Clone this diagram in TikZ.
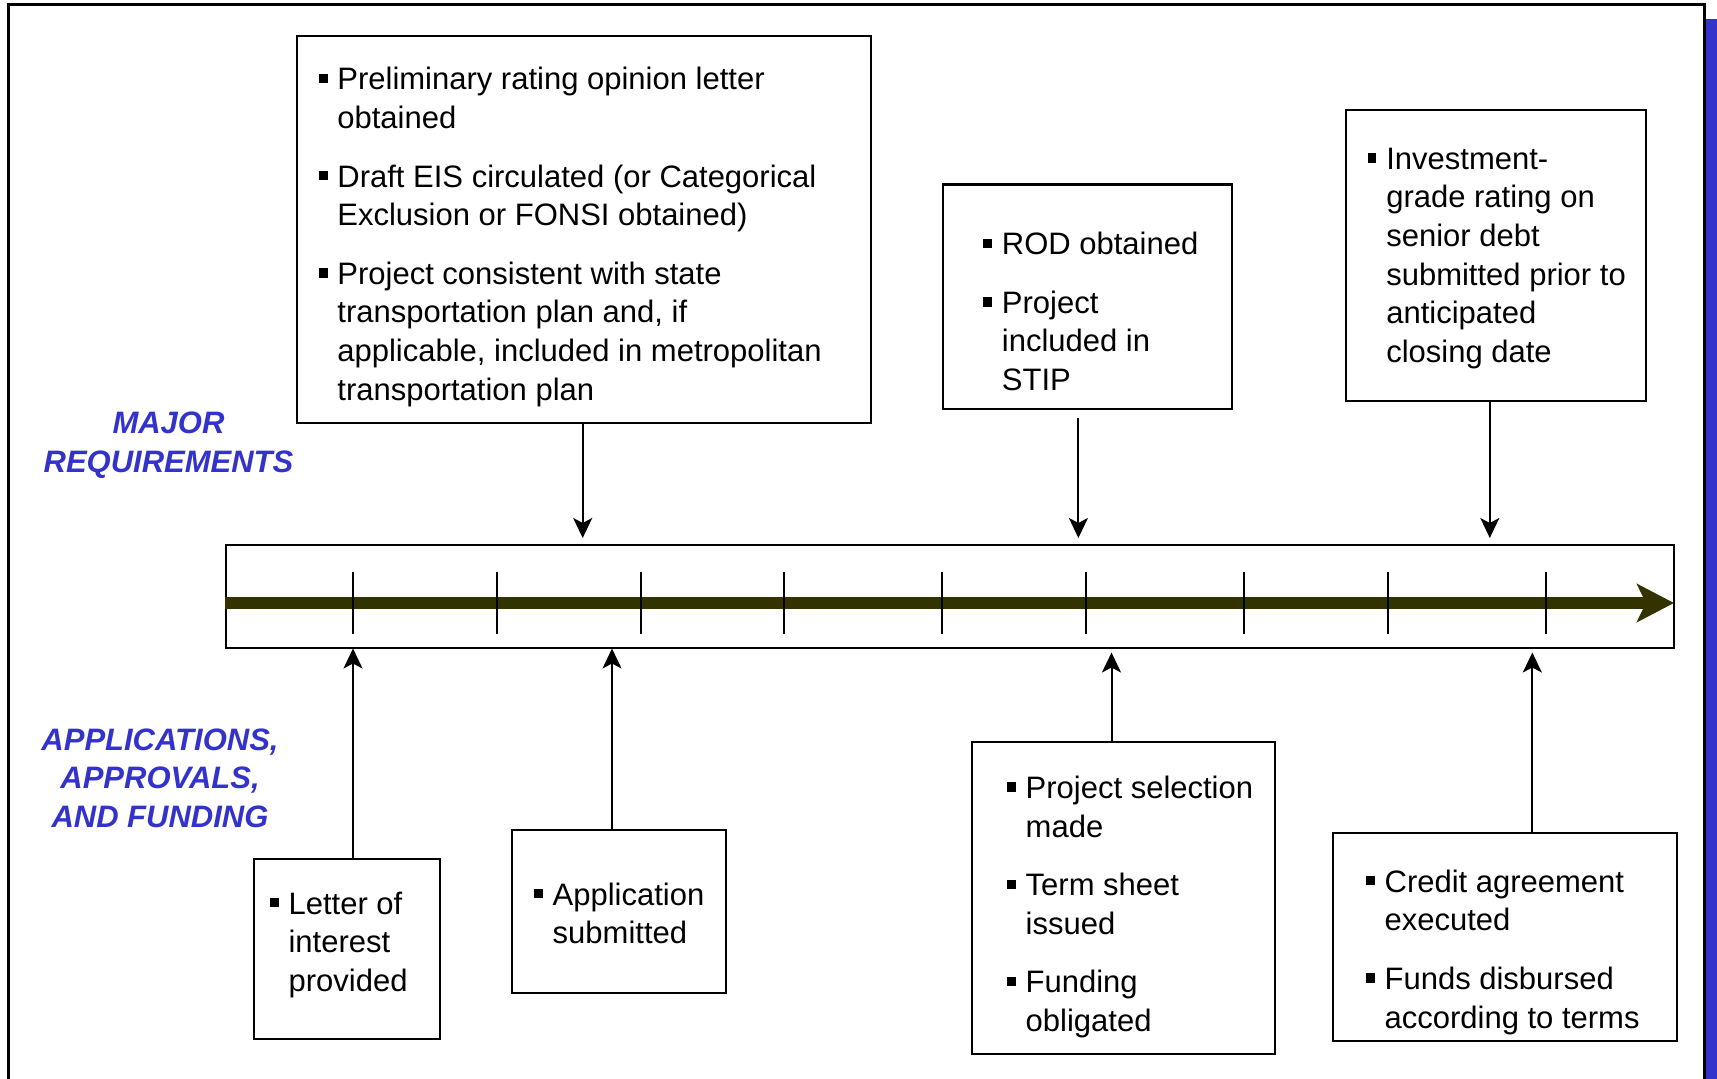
\documentclass[tikz,border=0pt]{standalone}
\usepackage{fontspec}
\setmainfont{Liberation Sans}
\usetikzlibrary{arrows.meta}
\definecolor{lblblue}{RGB}{51,51,204}
\definecolor{tlolive}{RGB}{51,51,0}
\newcommand\mybul{\makebox[9.25pt][l]{\rule[3.4pt]{4.3pt}{4.6pt}}}
\begin{document}
\begin{tikzpicture}[x=0.5pt,y=-0.5pt,
  box/.style={draw, line width=1.1pt, inner sep=0pt, anchor=north west},
  txt/.style={anchor=base west, inner sep=0pt, font=\fontsize{15.5pt}{19.3pt}\selectfont},
  lbl/.style={anchor=base, inner sep=0pt, text=lblblue, font=\fontsize{15.5pt}{19.3pt}\selectfont\bfseries\itshape},
  conn/.style={line width=1pt, -{Stealth[length=10pt,width=9.5pt,inset=2.5pt]}},
  tickmark/.style={line width=1pt},
  tline/.style={line width=5.6pt, draw=tlolive, -{Stealth[length=18.5pt,width=19pt,inset=4.5pt,fill=tlolive]}}]
\useasboundingbox (0,0) rectangle (1717,1079);
\clip (0,0) rectangle (1717,1079);
% frame and side bar
\fill[lblblue] (1706,19) rectangle (1722,1090);
\draw[line width=1.5pt] (8,1095) -- (8,5) -- (1704,5) -- (1704,1095);

% side labels
\node[lbl] (lmaj) at (168.5,434) {\begin{tabular}[t]{@{}c@{}}MAJOR\\REQUIREMENTS\end{tabular}};
\node[lbl] (lapp) at (160,750) {\begin{tabular}[t]{@{}c@{}}APPLICATIONS,\\APPROVALS,\\AND FUNDING\end{tabular}};

% timeline
\node[box, minimum width=724.25pt, minimum height=51.25pt] (T) at (224.5,544) {};
\coordinate (tl0) at (224.5,603);
\coordinate (tl1) at (1674,603);
\draw[tline] (tl0) -- (tl1);
\foreach \xx in {353,496.6,640.6,784.2,942.3,1086.1,1244.3,1388,1546.2}
  \draw[tickmark] (\xx,572) -- (\xx,634);

% upper boxes
\node[box, minimum width=287pt, minimum height=193.5pt] (A) at (296,35) {};
\node[txt] (Atxt) at (318.5,90) {\begin{tabular}[t]{@{}l@{}l@{}}
\mybul & Preliminary rating opinion letter\\
 & obtained\\[10pt]
\mybul & Draft EIS circulated (or Categorical\\
 & Exclusion or FONSI obtained)\\[10pt]
\mybul & Project consistent with state\\
 & transportation plan and, if\\
 & applicable, included in metropolitan\\
 & transportation plan
\end{tabular}};

\node[box, minimum width=144.25pt, minimum height=112.25pt] (B) at (942,183.5) {};
\node[txt] (Btxt) at (983,254.8) {\begin{tabular}[t]{@{}l@{}l@{}}
\mybul & ROD obtained\\[10pt]
\mybul & Project\\
 & included in\\
 & STIP
\end{tabular}};

\node[box, minimum width=150pt, minimum height=145.5pt] (C) at (1345,109) {};
\node[txt] (Ctxt) at (1367.4,169.4) {\begin{tabular}[t]{@{}l@{}l@{}}
\mybul & Investment-\\
 & grade rating on\\
 & senior debt\\
 & submitted prior to\\
 & anticipated\\
 & closing date
\end{tabular}};

% lower boxes
\node[box, minimum width=92.75pt, minimum height=90pt] (L) at (253,857.5) {};
\node[txt] (Ltxt) at (269.7,914) {\begin{tabular}[t]{@{}l@{}l@{}}
\mybul & Letter of\\
 & interest\\
 & provided
\end{tabular}};

\node[box, minimum width=107pt, minimum height=81.5pt] (P) at (511,828.5) {};
\node[txt] (Ptxt) at (533.8,905) {\begin{tabular}[t]{@{}l@{}l@{}}
\mybul & Application\\
 & submitted
\end{tabular}};

\node[box, minimum width=151.5pt, minimum height=156pt] (D) at (971,741) {};
\node[txt] (Dtxt) at (1006.8,798.4) {\begin{tabular}[t]{@{}l@{}l@{}}
\mybul & Project selection\\
 & made\\[10pt]
\mybul & Term sheet\\
 & issued\\[10pt]
\mybul & Funding\\
 & obligated
\end{tabular}};

\node[box, minimum width=171.75pt, minimum height=104pt] (E) at (1332,832) {};
\node[txt] (Etxt) at (1365.7,892.2) {\begin{tabular}[t]{@{}l@{}l@{}}
\mybul & Credit agreement\\
 & executed\\[10pt]
\mybul & Funds disbursed\\
 & according to terms
\end{tabular}};

% connector tips
\coordinate (tA) at (582.7,538);
\coordinate (tB) at (1078.4,538);
\coordinate (tC) at (1489.8,538);
\coordinate (tL) at (353,648.5);
\coordinate (tP) at (612,648.5);
\coordinate (tD) at (1111.5,652.5);
\coordinate (tE) at (1532.3,652.5);

\draw[conn] (A.south -| tA) -- (tA);
\draw[conn, shorten <=4pt] (B.south -| tB) -- (tB);
\draw[conn] (C.south -| tC) -- (tC);
\draw[conn] (L.north -| tL) -- (tL);
\draw[conn] (P.north -| tP) -- (tP);
\draw[conn] (D.north -| tD) -- (tD);
\draw[conn] (E.north -| tE) -- (tE);
\end{tikzpicture}
\end{document}
